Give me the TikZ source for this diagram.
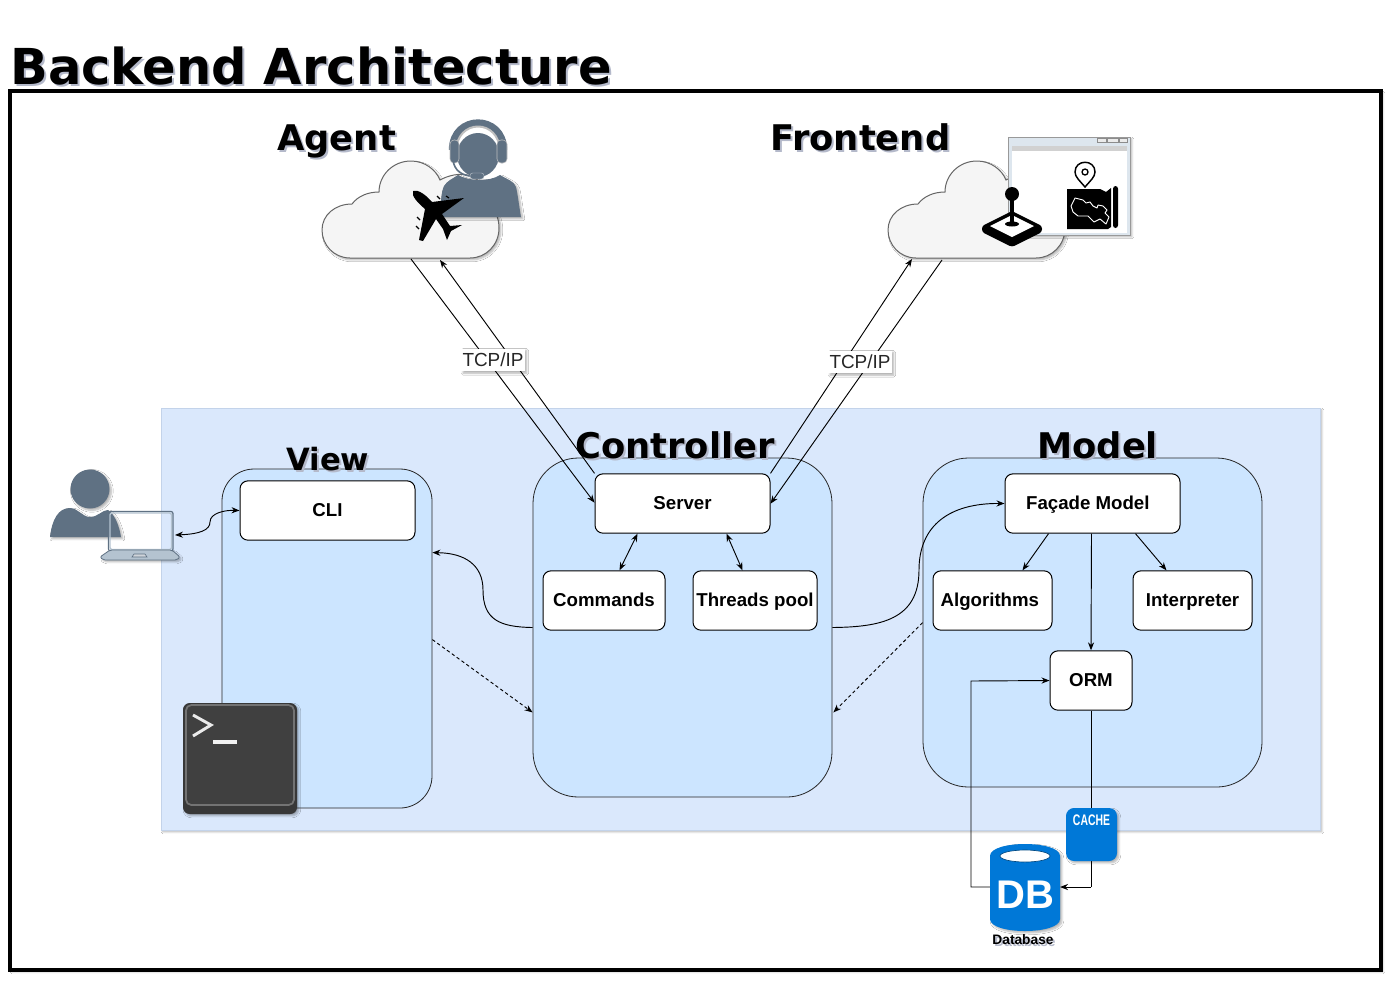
\documentclass[tikz,border=0pt]{standalone}
\usepackage{fontspec}
\setmainfont{Liberation Sans}
\newfontfamily\djfont{DejaVu Sans}
\usetikzlibrary{arrows.meta,shadows.blur,calc}
\definecolor{panel}{HTML}{DAE8FC}
\definecolor{panelb}{HTML}{C3D3EA}
\definecolor{zone}{HTML}{CCE5FF}
\definecolor{slate}{HTML}{5F7183}
\definecolor{msblue}{HTML}{0078D7}
\definecolor{shc}{HTML}{B4B9CA}
\definecolor{laptopfill}{HTML}{B4C3D0}
\definecolor{winfill}{HTML}{DDE6EE}
\newcommand\shtxt[1]{\rlap{\kern1.5pt\raisebox{-1.5pt}{\textcolor{shc}{#1}}}#1}
\newcommand\cloudpath{(350,258) .. controls (334,258) and (322,245) .. (322,230) .. controls (322,215) and (335,204) .. (352,204) .. controls (358,196) and (368,192) .. (379,192) .. controls (379,175) and (393,161) .. (411,161) .. controls (425,161) and (436,170) .. (440,180) .. controls (447,176) and (460,172) .. (470,176) .. controls (482,180) and (488,190) .. (487,203) .. controls (495,208) and (499,218) .. (499,228) .. controls (499,245) and (486,258) .. (470,258) -- cycle}
\tikzset{
  softshadow/.style={blur shadow={shadow xshift=1.4pt,shadow yshift=-1.4pt,shadow blur radius=1.4pt,shadow opacity=30,shadow blur steps=6}},
  zonebox/.style={draw=black!85,line width=.6pt,fill=zone,inner sep=0pt},
  itembox/.style={draw=black,line width=.75pt,fill=white,rounded corners=6pt,inner sep=0pt,font=\bfseries\fontsize{14}{16}\selectfont,text=black,text height=11.5pt,text depth=3pt},
  heading/.style={anchor=base west,inner sep=0pt,font=\djfont\bfseries\fontsize{26.5}{30}\selectfont},
  tcplabel/.style={fill=white,inner xsep=1pt,inner ysep=0pt,minimum height=17pt,font=\fontsize{14.2}{16}\selectfont,text=black!85,softshadow},
  conn/.style={line width=.7pt,draw=black,>={Stealth[length=6pt,width=4.6pt]}},
  dash conn/.style={conn,dashed,dash pattern=on 2.5pt off 2pt},
  cloudst/.style={fill=black!4,draw=black!60,line width=.75pt,softshadow},
  dbtxt/.style={inner sep=0pt,text=white}
}
\begin{document}
\begin{tikzpicture}[x=.75pt,y=-.75pt]
\useasboundingbox (0,0) rectangle (1394,983);
\fill[white] (0,0) rectangle (1394,983);
% frame and title
\draw[line width=2.3pt,fill=white,softshadow] (10,91) rectangle (1381,970);
\node[anchor=base west,inner sep=0pt,font=\djfont\bfseries\fontsize{37.15}{40}\selectfont] (title) at (10,84) {\shtxt{Backend Architecture}};
% panel
\fill[panel,draw=panelb,line width=.75pt,softshadow] (161,408) rectangle (1320,830);
% zones
\node[zonebox,rounded corners=24pt,minimum width=157.5pt,minimum height=254.25pt] (view) at (327,638.5) {};
\node[zonebox,rounded corners=34pt,minimum width=224.25pt,minimum height=254.25pt] (controller) at (682.5,627.5) {};
\node[zonebox,rounded corners=34pt,minimum width=254.25pt,minimum height=246.75pt] (model) at (1092.5,622.5) {};
% headings
\node[heading] (agentT) at (277,150) {\shtxt{Agent}};
\node[heading] (frontT) at (770,150) {\shtxt{Frontend}};
\node[heading,font=\djfont\bfseries\fontsize{23}{26}\selectfont] (viewT) at (286,470) {\shtxt{View}};
\node[heading] (ctrlT) at (575,458) {\shtxt{Controller}};
\node[heading] (modelT) at (1037,458) {\shtxt{Model}};
% item boxes
\node[itembox,minimum width=131.25pt,minimum height=44.5pt] (cli) at (327.5,510.5) {CLI};
\node[itembox,minimum width=131.25pt,minimum height=44.5pt] (server) at (682.5,503.5) {Server};
\node[itembox,minimum width=91.5pt,minimum height=44.5pt] (commands) at (604,600.5) {Commands};
\node[itembox,minimum width=93pt,minimum height=44.5pt] (threads) at (755,600.5) {Threads pool};
\node[itembox,minimum width=131.25pt,minimum height=44.5pt] (facade) at (1092.5,503.5) {Façade Model\hspace*{7pt}\mbox{}};
\node[itembox,minimum width=89.25pt,minimum height=44.5pt] (algo) at (992.5,600.5) {Algorithms\hspace*{4pt}\mbox{}};
\node[itembox,minimum width=89.25pt,minimum height=44.5pt] (interp) at (1192.5,600.5) {Interpreter};
\node[itembox,minimum width=61.5pt,minimum height=44.5pt] (orm) at (1091,680.5) {ORM};
% clouds
\path[cloudst] \cloudpath;
\begin{scope}[shift={(566,0)}]
\path[cloudst] \cloudpath;
\end{scope}
\coordinate (agentOut) at (411,259);
\coordinate (agentIn) at (440,260);
\coordinate (frontIn) at (912,259);
\coordinate (frontOut) at (942,260);
\coordinate (laptopEnd) at (175,535);
% connectors
\draw[conn,->] (agentOut) -- ($(server.south west)+(0,-31)$);
\draw[conn,->] (server.north west) -- (agentIn);
\draw[conn,->] (server.north east) -- (frontIn);
\draw[conn,->] (frontOut) -- ($(server.south east)+(0,-30)$);
\node[tcplabel] (tcp1) at (493,360) {TCP/IP};
\node[tcplabel] (tcp2) at (860,362) {TCP/IP};
\draw[conn,<->] ($(server.south west)+(43,0)$) -- ($(commands.north west)+(77,0)$);
\draw[conn,<->] ($(server.south west)+(132,0)$) -- ($(threads.north west)+(50,0)$);
\draw[conn,->] ($(facade.south west)+(44,0)$) -- ($(algo.north west)+(90,0)$);
\draw[conn,->] ($(facade.south west)+(131,0)$) -- ($(interp.north west)+(34,0)$);
\draw[conn,->] ($(facade.south west)+(87,0)$) -- (orm.north);
\draw[conn,->] (controller.west) .. controls (500,627) and (483,620) .. (483,590) .. controls (483,565) and (465,553) .. ($(view.north east)+(0,84)$);
\draw[conn,->] (controller.east) .. controls (880,627) and (919,620) .. (919,570) .. controls (919,525) and (950,503) .. (facade.west);
\draw[dash conn,->] ($(view.north east)+(0,171)$) -- ($(controller.south west)+(0,-85)$);
\draw[dash conn,->] ($(model.north west)+(0,165)$) -- ($(controller.south east)+(1,-85)$);
\draw[conn,<->] (laptopEnd) .. controls (200,534) and (210,530) .. (210,522) .. controls (210,513) and (225,510) .. (cli.west);
\draw[conn] (orm.south) -- (1091,887);
\coordinate (dbL) at (990,887);
\coordinate (dbR) at (1060,887);
\draw[conn,->] (1091,887) -- (dbR);
\draw[conn,->] (dbL) -- (971,887) -- (971,681) -- (orm.west);
% agent icon
\fill[slate,softshadow] (440,217) .. controls (441,203) and (441,192) .. (444,186) .. controls (447,181) and (452,179) .. (458,175) .. controls (468,181) and (490,182) .. (500,175) .. controls (508,180) and (514,181) .. (516,187) .. controls (518,196) and (519,206) .. (521,217) -- cycle;
\draw[slate,line width=5.5pt] (452.5,150) .. controls (452.5,114) and (503.5,114) .. (503.5,150);
\draw[black!25,line width=1.5pt] (456,152) .. controls (456,118) and (500,118) .. (500,152);
\fill[slate] (478,155) ellipse [x radius=21,y radius=22];
\fill[slate,draw=black!25,line width=.4pt,rounded corners=3pt] (450,140) rectangle (459,163);
\fill[slate,draw=black!25,line width=.4pt,rounded corners=3pt] (497,140) rectangle (507,163);
\draw[slate,line width=1.2pt] (453,160) .. controls (454,170) and (462,176) .. (472,176);
\fill[slate,draw=white!60!slate,line width=.3pt,rounded corners=2pt] (470,173) rectangle (484,179);
% plane
\fill[black] (413,191) .. controls (418,189) and (426,195) .. (432,202) -- (464,198) -- (442,214) -- (450,226) -- (462,225) -- (451,231) -- (447,240) -- (443,229) -- (436,219) -- (423,241) -- (419,240) -- (425,209) .. controls (418,203) and (411,196) .. (413,191) -- cycle;
\draw[black,line width=.9pt] (437,196) -- (440,199) (446,196) -- (449,198) (417,217) -- (420,220) (416,226) -- (419,229);
% window
\fill[winfill,draw=black!40,line width=.75pt,softshadow] (1008,137) rectangle (1130,235);
\fill[white] (1012,146) rectangle (1127,233);
\fill[black!18] (1012,146) rectangle (1127,151);
\draw[black!45,line width=.4pt,fill=black!8] (1097,138) rectangle (1106,142) (1107,138) rectangle (1118,142) (1119,138) rectangle (1127,142);
% joystick
\fill[black,rounded corners=2pt] (982,226) -- (1012,211) -- (1042,226) -- (1042,232) -- (1012,247) -- (982,232) -- cycle;
\fill[white] (990,226) -- (1012,215) -- (1034,226) -- (1012,237) -- cycle;
\fill[black] (1012,224) ellipse [x radius=7,y radius=2.5];
\fill[black] (1010,196) rectangle (1014,224);
\fill[black] (1012,194) circle [radius=7];
% map pin
\path[fill=white,draw=black,line width=1.1pt] (1085,187) .. controls (1080,181) and (1075,177) .. (1075,172) .. controls (1075,159) and (1095,159) .. (1095,172) .. controls (1095,177) and (1090,181) .. (1085,187) -- cycle;
\draw[black,line width=1pt] (1085,172) circle [radius=3];
% map
\fill[black] (1067,189) -- (1100,189) -- (1106,192) -- (1111,188) -- (1111,227) -- (1108,229) -- (1067,229) -- cycle;
\fill[black,rounded corners=2pt] (1113,186) rectangle (1118,228);
\draw[white,line width=.7pt,line join=round] (1071,206) -- (1075,198) -- (1083,200) -- (1086,203) -- (1090,202) -- (1093,206) -- (1097,208) -- (1098,205) -- (1103,206) -- (1107,210) -- (1105,213) -- (1109,217) -- (1106,224) -- (1100,219) -- (1094,222) -- (1088,216) -- (1078,216) -- (1073,212) -- cycle;
% user icon
\fill[slate,softshadow] (90,489) circle [radius=19.5];
\fill[slate,softshadow] (50,537) .. controls (52,520) and (58,508) .. (70,508) .. controls (78,508) and (82,517) .. (90,517) .. controls (98,517) and (102,510) .. (108,510) .. controls (115,515) and (119,525) .. (121,537) -- cycle;
% laptop
\draw[slate,line width=.9pt,rounded corners=1.5pt] (108.5,511.5) rectangle (173,551);
\draw[laptopfill,line width=1pt,rounded corners=1.5pt] (110,513) rectangle (171.5,549.5);
\fill[laptopfill,draw=slate,line width=.6pt,rounded corners=1.5pt,softshadow] (110,550) -- (172,550) -- (180,557) -- (177,560) -- (103,560) -- (100,557) -- cycle;
\draw[slate,line width=.5pt,fill=white!70!slate] (132,557) -- (134,554) -- (145,554) -- (147,557) -- cycle;
% terminal
\fill[black!78,rounded corners=5pt,softshadow] (183,703) rectangle (297,814);
\draw[black!55,line width=1.3pt,rounded corners=4pt,fill=black!75] (186,705) rectangle (294,805);
\draw[black!8,line width=2.2pt,line join=miter] (193,715) -- (211,725) -- (193,736);
\draw[black!5,line width=2.6pt] (213,742) -- (237,742);
% cache
\node[fill=msblue,rounded corners=6pt,minimum width=38.25pt,minimum height=39.75pt,softshadow,inner sep=0pt] (cacheBox) at (1091.5,834.5) {};
\node[dbtxt,xscale=.68,font=\bfseries\fontsize{11.5}{12}\selectfont] (cacheT) at (1091.5,820.5) {CACHE};
% database
\path[fill=msblue,softshadow] (990,856) .. controls (990,840) and (1060,840) .. (1060,856) -- (1060,919) .. controls (1060,935) and (990,935) .. (990,919) -- cycle;
\fill[white,draw=black!40!msblue,line width=.5pt] (1025,856) ellipse [x radius=25,y radius=6];
\node[dbtxt,font=\bfseries\fontsize{30}{32}\selectfont] (dbT) at (1025,895) {DB};
\node[inner sep=0pt,font=\bfseries\fontsize{10.3}{12}\selectfont] (dbL2) at (1023,941) {\shtxt{Database}};
\end{tikzpicture}
\end{document}
